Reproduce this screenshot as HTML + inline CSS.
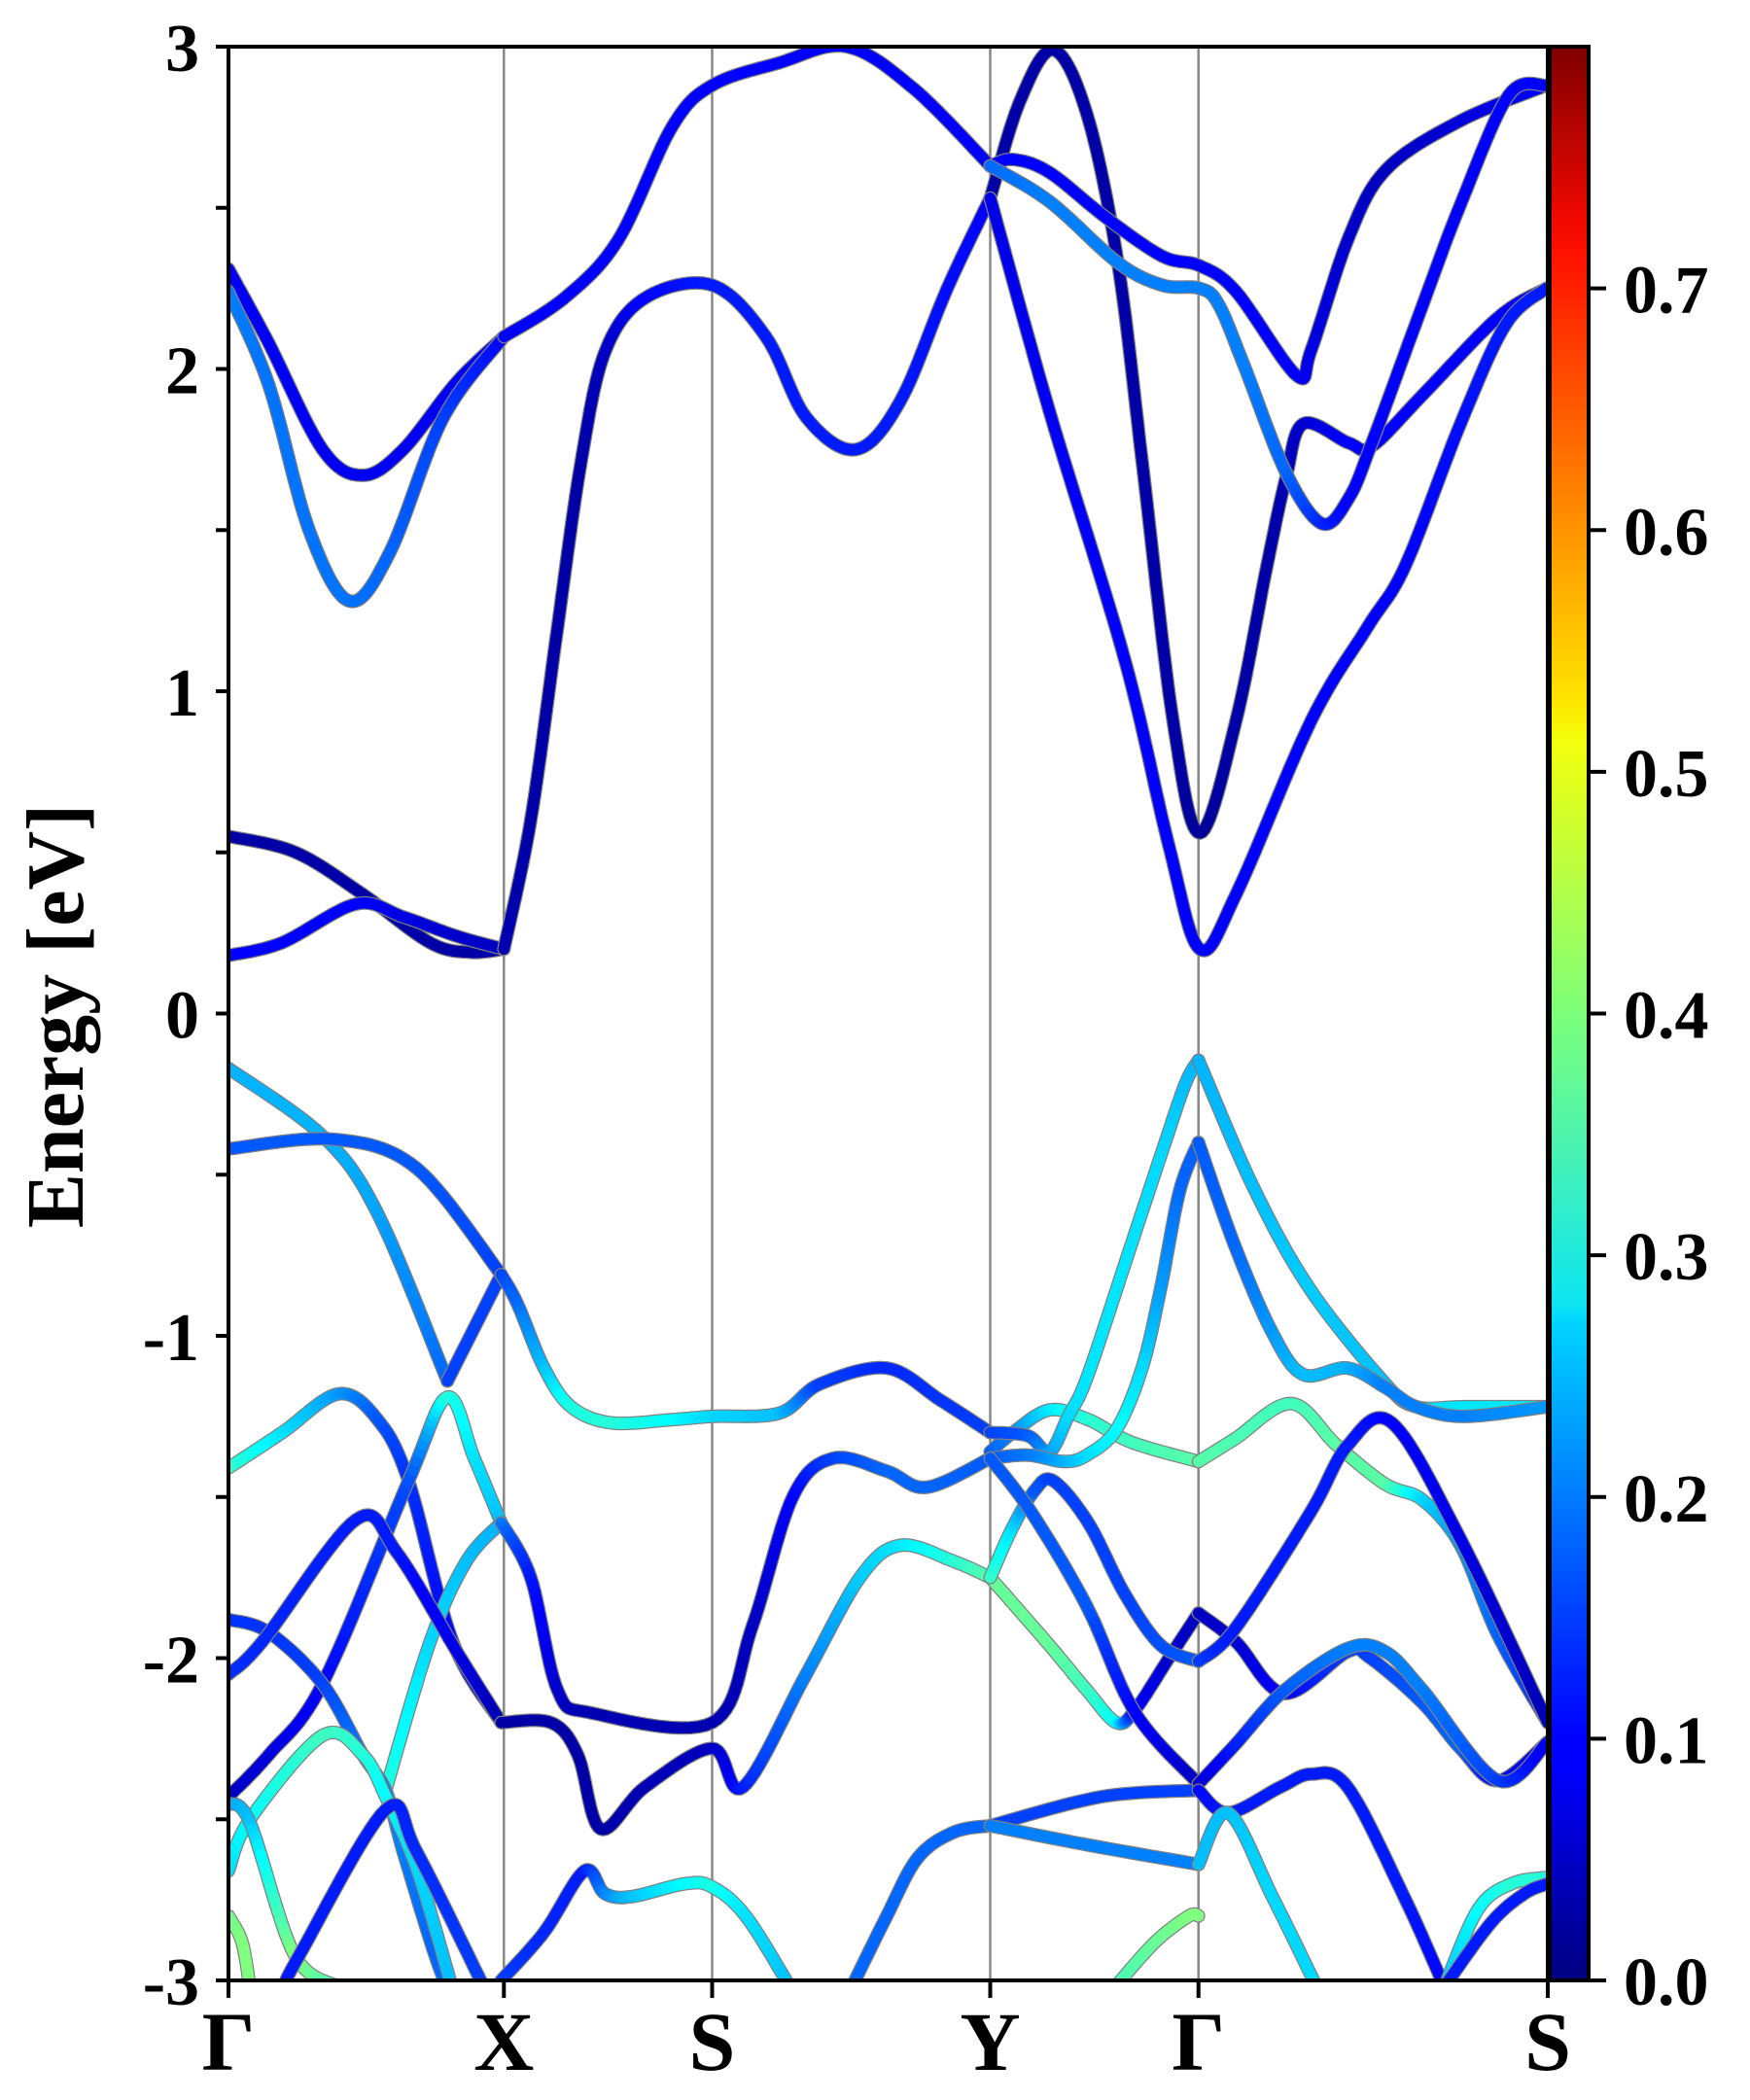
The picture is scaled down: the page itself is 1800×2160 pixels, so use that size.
<!DOCTYPE html>
<html><head><meta charset="utf-8"><style>
html,body{margin:0;padding:0;background:#fff;}
svg{display:block;}
text{font-family:"Liberation Serif",serif;font-weight:bold;fill:#000;}
</style></head><body>
<svg id="chart" width="1800" height="2160" viewBox="0 0 1800 2160" xmlns="http://www.w3.org/2000/svg">
<defs>
<clipPath id="plotclip"><rect x="235" y="48" width="1357" height="1989"/></clipPath>
<linearGradient id="jetgrad" x1="0" y1="1" x2="0" y2="0">
<stop offset="0" stop-color="#00007f"/><stop offset="0.11" stop-color="#0000ff"/><stop offset="0.125" stop-color="#0000ff"/>
<stop offset="0.34" stop-color="#00d4ff"/><stop offset="0.35" stop-color="#0de5f2"/><stop offset="0.5" stop-color="#7dff7a"/>
<stop offset="0.64" stop-color="#f2ff0d"/><stop offset="0.66" stop-color="#ffe600"/><stop offset="0.89" stop-color="#ff1300"/>
<stop offset="0.91" stop-color="#f10800"/><stop offset="1" stop-color="#7f0000"/>
</linearGradient>
</defs>
<g id="gridlines"></g>
<g id="bandsg" clip-path="url(#plotclip)"></g>
<rect x="235" y="48" width="1357" height="1989" fill="none" stroke="#000" stroke-width="4"/>
<g id="axes"></g>
<rect x="1594" y="48" width="40" height="1989" fill="url(#jetgrad)" stroke="#000" stroke-width="4"/>
<text x="0" y="0" font-size="84" text-anchor="middle" transform="translate(85,1045) rotate(-90)">Energy [eV]</text>
</svg>
<script>
// ---- data ----
const kTickPos = [0, 205, 360, 567, 722, 982];
const kTickLabels = ["Γ", "X", "S", "Y", "Γ", "S"];
const yTicks = [-3, -2.5, -2, -1.5, -1, -0.5, 0, 0.5, 1, 1.5, 2, 2.5, 3];
const yTickLabels = ["-3", "", "-2", "", "-1", "", "0", "", "1", "", "2", "", "3"];
const cbTicks = [0, 0.1, 0.2, 0.3, 0.4, 0.5, 0.6, 0.7];
const cbTickLabels = ["0.0", "0.1", "0.2", "0.3", "0.4", "0.5", "0.6", "0.7"];

// bands: [k, energy(eV), weight]
const bandC1 = [[0,0.55,.03],[50,0.5,.03],[100,0.37,.03],[150,0.22,.03],[180,0.19,.03],[205,0.2,.04]];
const bandC2 = [[0,0.18,.1],[40,0.22,.1],[95,0.34,.1],[130,0.3,.08],[170,0.24,.06],[205,0.2,.05]];
const bandC3 = [[205,0.2,.04],[225,0.6,.03],[245,1.2,.03],[262,1.7,.03],[280,2.05,.05],[310,2.22,.1],[360,2.26,.12],[400,2.1,.12],[430,1.85,.12],[467,1.75,.12],[500,1.9,.12],[535,2.25,.11],[567,2.53,.1]];
const bandGU1 = [[0,2.31,.09],[30,2.08,.09],[70,1.75,.09],[100,1.67,.09],[130,1.75,.09],[170,1.96,.09],[205,2.1,.1]];
const bandGU2 = [[0,2.24,.2],[30,1.95,.19],[60,1.5,.19],[90,1.28,.19],[120,1.43,.18],[160,1.85,.15],[205,2.1,.1]];
const bandXSY = [[205,2.1,.1],[250,2.22,.1],[290,2.4,.1],[330,2.75,.1],[360,2.88,.1],[410,2.95,.1],[460,3.0,.1],[510,2.87,.1],[567,2.63,.1]];
const bandZ1 = [[567,2.53,.03],[589,2.83,.03],[614,2.99,.03],[639,2.79,.03],[662,2.33,.03],[681,1.68,.03],[703,0.91,.03],[723,0.56,.02],[750,0.91,.03],[773,1.39,.03],[787,1.66,.04],[800,1.83,.06],[834,1.77,.1],[851,1.76,.1],[889,1.92,.1],[945,2.16,.1],[981,2.25,.1]];
const bandZ2 = [[567,2.53,.08],[611,1.87,.09],[667,1.1,.1],[700,0.52,.1],[723,0.2,.1],[750,0.37,.1],[806,0.91,.1],[848,1.2,.1],[876,1.39,.1],[917,1.83,.11],[951,2.14,.12],[981,2.25,.12]];
const bandZ3 = [[567,2.63,.1],[584,2.65,.1],[611,2.61,.1],[653,2.47,.1],[695,2.35,.1],[723,2.32,.1],[750,2.24,.1],[795,1.98,.1],[806,2.06,.08],[834,2.41,.06],[862,2.62,.05],[917,2.77,.07],[981,2.88,.1]];
const bandZ4 = [[567,2.63,.18],[611,2.52,.2],[662,2.33,.2],[695,2.26,.2],[723,2.25,.2],[737,2.2,.2],[756,2.01,.2],[787,1.68,.18],[814,1.52,.13],[834,1.6,.1],[851,1.77,.1],[889,2.2,.1],[917,2.51,.1],[953,2.85,.1],[981,2.88,.1]];
const bandL1 = [[0,-0.17,.24],[70,-0.38,.24],[111,-0.62,.23],[163,-1.14,.18]];
const bandL2 = [[163,-1.14,.15],[203,-0.81,.15]];
const bandL3 = [[0,-0.42,.17],[78,-0.39,.17],[140,-0.48,.17],[203,-0.81,.15]];
const bandL4 = [[0,-1.41,.35],[40,-1.3,.28],[82,-1.18,.22],[111,-1.26,.17],[134,-1.45,.14],[167,-1.95,.1],[203,-2.2,.04]];
const bandL5 = [[0,-2.43,.05],[30,-2.3,.07],[70,-2.08,.1],[134,-1.45,.16],[163,-1.19,.33],[183,-1.38,.28],[203,-1.58,.25]];
const bandL6 = [[117,-2.41,.33],[150,-1.95,.27],[177,-1.7,.25],[203,-1.58,.24]];
const bandL7 = [[0,-1.88,.14],[30,-1.92,.14],[70,-2.08,.15],[100,-2.3,.2],[117,-2.41,.2],[130,-2.6,.2],[152,-2.9,.18],[165,-3.05,.18]];
const bandL8 = [[0,-2.05,.14],[25,-1.95,.13],[95,-1.57,.12],[125,-1.67,.12],[170,-1.98,.08],[200,-2.18,.04]];
const bandL10 = [[0,-2.66,.27],[16,-2.5,.3],[70,-2.24,.35],[100,-2.3,.33],[117,-2.43,.3],[140,-2.65,.27],[165,-3.0,.25]];
const bandL11 = [[0,-2.45,.22],[16,-2.51,.25],[49,-2.92,.4],[82,-3.02,.35]];
const bandL12 = [[0,-2.8,.38],[10,-2.88,.4],[16,-3.02,.4]];
const bandL13 = [[41,-3.02,.12],[53,-2.92,.12],[117,-2.47,.12],[140,-2.6,.13],[190,-3.02,.15]];
const bandL15 = [[203,-3.0,.15],[235,-2.85,.13],[265,-2.66,.12],[280,-2.73,.2],[300,-2.74,.25],[340,-2.7,.3],[360,-2.71,.32],[385,-2.8,.28],[418,-3.02,.25]];
const bandL16 = [[464,-3.02,.18],[490,-2.8,.18],[513,-2.62,.18],[540,-2.54,.18],[567,-2.52,.18]];
const bandVXS = [[203,-0.81,.15],[215,-0.9,.18],[235,-1.1,.25],[255,-1.22,.32],[285,-1.27,.33],[330,-1.26,.3],[360,-1.25,.27],[410,-1.24,.25],[440,-1.15,.15],[490,-1.1,.13],[530,-1.2,.14],[567,-1.3,.15]];
const bandP = [[203,-1.58,.2],[225,-1.75,.12],[245,-2.1,.06],[270,-2.17,.04],[360,-2.2,.04],[390,-1.9,.05],[420,-1.5,.1],[450,-1.38,.15],[490,-1.42,.18],[520,-1.47,.18],[567,-1.38,.17]];
const bandQ = [[203,-2.2,.03],[240,-2.2,.03],[260,-2.3,.03],[277,-2.53,.03],[310,-2.4,.04],[360,-2.28,.05],[383,-2.4,.12],[430,-2.05,.2],[470,-1.75,.26],[500,-1.65,.28],[540,-1.7,.33],[567,-1.75,.37]];
const bandYG1 = [[567,-1.36,.17],[584,-1.3,.2],[611,-1.23,.28],[640,-1.26,.33],[672,-1.33,.35],[722,-1.39,.37]];
const bandYG2 = [[567,-1.3,.15],[595,-1.31,.17],[611,-1.36,.22],[625,-1.25,.27],[639,-1.13,.28],[667,-0.78,.28],[694,-0.44,.27],[712,-0.22,.25],[722,-0.145,.24]];
const bandYG3 = [[722,-0.4,.17],[708,-0.55,.18],[694,-0.85,.22],[680,-1.1,.27],[661,-1.29,.3],[639,-1.37,.28],[622,-1.39,.25],[595,-1.37,.2],[567,-1.38,.17]];
const bandYG4 = [[567,-1.75,.38],[611,-1.96,.38],[639,-2.1,.35],[661,-2.2,.3],[675,-2.16,.1],[700,-2.0,.06],[722,-1.86,.05]];
const bandYG5 = [[567,-1.75,.35],[583,-1.6,.28],[600,-1.48,.17],[614,-1.45,.15],[640,-1.58,.15],[667,-1.8,.15],[694,-1.96,.16],[722,-2.01,.17]];
const bandYG6 = [[567,-1.38,.17],[598,-1.55,.17],[639,-1.84,.17],[675,-2.17,.1],[722,-2.39,.05]];
const bandYG7 = [[567,-2.52,.15],[650,-2.43,.15],[722,-2.41,.15]];
const bandYG8 = [[567,-2.52,.2],[640,-2.58,.2],[722,-2.64,.2]];
const bandYG9 = [[660,-3.02,.35],[690,-2.88,.38],[715,-2.8,.4],[722,-2.8,.4]];
const bandS1 = [[722,-0.145,.24],[763,-0.54,.25],[805,-0.855,.26],[861,-1.148,.25],[884,-1.22,.27],[920,-1.22,.28],[982,-1.22,.28]];
const bandS2 = [[722,-0.4,.17],[749,-0.72,.18],[777,-0.99,.22],[800,-1.12,.25],[833,-1.1,.24],[861,-1.16,.2],[884,-1.22,.2],[920,-1.25,.2],[982,-1.22,.22]];
const bandS3 = [[722,-1.39,.37],[749,-1.32,.36],[791,-1.21,.35],[825,-1.34,.37],[861,-1.46,.37],[889,-1.51,.27],[917,-1.65,.22],[945,-1.93,.18],[982,-2.2,.12]];
const bandS4 = [[722,-1.86,.05],[750,-1.95,.06],[786,-2.11,.1],[833,-1.98,.15],[850,-2.0,.15],[889,-2.14,.17],[917,-2.28,.18],[945,-2.38,.1],[982,-2.26,.08]];
const bandS5 = [[722,-2.39,.05],[749,-2.27,.12],[786,-2.1,.17],[833,-1.97,.2],[861,-1.98,.2],[889,-2.1,.2],[945,-2.38,.15],[982,-2.26,.08]];
const bandS6 = [[722,-2.01,.15],[749,-1.91,.12],[805,-1.55,.12],[833,-1.34,.12],[866,-1.27,.1],[917,-1.63,.08],[982,-2.2,.04]];
const bandS7 = [[722,-2.41,.1],[744,-2.48,.12],[783,-2.4,.12],[806,-2.36,.12],[833,-2.4,.12],[875,-2.74,.12],[905,-3.02,.1]];
const bandS8 = [[722,-2.64,.25],[744,-2.48,.25],[777,-2.74,.27],[810,-3.02,.27]];
const bandS9 = [[905,-3.02,.25],[930,-2.78,.3],[955,-2.7,.33],[982,-2.68,.33]];
const bandS10 = [[905,-3.02,.12],[940,-2.82,.12],[965,-2.73,.12],[982,-2.7,.12]];

const allBands = [bandC1,bandC2,bandC3,bandGU1,bandGU2,bandXSY,bandZ1,bandZ2,bandZ3,bandZ4,
 bandL1,bandL2,bandL3,bandL4,bandL5,bandL6,bandL7,bandL8,bandL10,bandL11,bandL12,bandL13,bandL15,bandL16,
 bandVXS,bandP,bandQ,bandYG1,bandYG2,bandYG3,bandYG4,bandYG5,bandYG6,bandYG7,bandYG8,bandYG9,
 bandS1,bandS2,bandS3,bandS4,bandS5,bandS6,bandS7,bandS8,bandS9,bandS10];

// ---- scales ----
const PL=235, PR=1592, PT=48, PB=2037, KMAX=982, EMIN=-3, EMAX=3, WMAX=0.8;
function xs(k){return PL + k/KMAX*(PR-PL);}
function ys(e){return PT + (EMAX-e)/(EMAX-EMIN)*(PB-PT);}
function cbY(w){return PB - w/WMAX*(PB-PT);}
function jet(v){
  v=Math.max(0,Math.min(1,v/WMAX));
  const f=t=>Math.round(255*Math.max(0,Math.min(1,t)));
  const r=f(1.5-Math.abs(4*v-3)), g=f(1.5-Math.abs(4*v-2)), b=f(1.5-Math.abs(4*v-1));
  return `rgb(${r},${g},${b})`;
}
const NS="http://www.w3.org/2000/svg";
function mk(tag,attrs,parent){const e=document.createElementNS(NS,tag);for(const a in attrs)e.setAttribute(a,attrs[a]);parent.appendChild(e);return e;}

const gl=document.getElementById('gridlines');
kTickPos.forEach((k,i)=>{
  if(i>0 && i<kTickPos.length-1){
    const l=mk('line',{x1:xs(k),x2:xs(k),y1:PT,y2:PB,stroke:'#888','stroke-width':2.5},gl);
    
    
  }
});

function smooth(pts){
  const out=[];
  for(let i=0;i<pts.length-1;i++){
    const p0=pts[Math.max(0,i-1)],p1=pts[i],p2=pts[i+1],p3=pts[Math.min(pts.length-1,i+2)];
    const n=14;
    for(let s=0;s<n;s++){
      const t=s/n,t2=t*t,t3=t2*t;
      const c=(a,b,c_,d)=>0.5*((2*b)+(-a+c_)*t+(2*a-5*b+4*c_-d)*t2+(-a+3*b-3*c_+d)*t3);
      out.push([c(xs(p0[0]),xs(p1[0]),xs(p2[0]),xs(p3[0])),c(ys(p0[1]),ys(p1[1]),ys(p2[1]),ys(p3[1])),p1[2]+(p2[2]-p1[2])*t]);
    }
  }
  const l=pts[pts.length-1];out.push([xs(l[0]),ys(l[1]),l[2]]);
  return out;
}
const bg=document.getElementById('bandsg');
allBands.forEach((b,bi)=>{
  const sp=smooth(b);
  const g=mk('g',{},bg);
  
  
  mk('polyline',{points:sp.map(p=>p[0].toFixed(1)+','+p[1].toFixed(1)).join(' '),fill:'none',stroke:'#808080','stroke-width':14,'stroke-linejoin':'round','stroke-linecap':'round'},g);
  for(let i=0;i<sp.length-1;i++){
    mk('line',{x1:sp[i][0].toFixed(1),y1:sp[i][1].toFixed(1),x2:sp[i+1][0].toFixed(1),y2:sp[i+1][1].toFixed(1),stroke:jet((sp[i][2]+sp[i+1][2])/2),'stroke-width':11.5,'stroke-linecap':'round'},g);
  }
});

const ax=document.getElementById('axes');
yTicks.forEach((e,i)=>{
  const y=ys(e);
  const t=mk('line',{x1:PL-13,x2:PL,y1:y,y2:y,stroke:'#000','stroke-width':4},ax);
  
  
  if(yTickLabels[i]){
    const tx=mk('text',{x:PL-30,y:y+25,'font-size':70,'text-anchor':'end'},ax);
    tx.textContent=yTickLabels[i];
    
    
  }
});
kTickPos.forEach((k,i)=>{
  const x=xs(k);
  const t=mk('line',{x1:x,x2:x,y1:PB,y2:PB+18,stroke:'#000','stroke-width':4},ax);
  
  
  const tx=mk('text',{x:x,y:PB+92,'font-size':86,'text-anchor':'middle'},ax);
  tx.textContent=kTickLabels[i];
  
  
});
cbTicks.forEach((w,i)=>{
  const y=cbY(w);
  const t=mk('line',{x1:1634,x2:1652,y1:y,y2:y,stroke:'#000','stroke-width':4},ax);
  
  
  const tx=mk('text',{x:1670,y:y+25,'font-size':70,'text-anchor':'start'},ax);
  tx.textContent=cbTickLabels[i];
  
  
});
</script>
</body></html>
